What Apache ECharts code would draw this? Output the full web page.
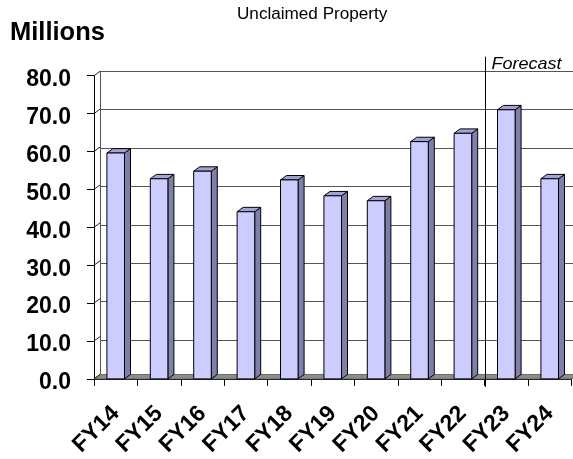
<!DOCTYPE html>
<html>
<head>
<meta charset="utf-8">
<style>
  html, body { margin: 0; padding: 0; background: #ffffff; }
  #chart { width: 573px; height: 459px; }
</style>
<script src="https://cdn.jsdelivr.net/npm/echarts@6/dist/echarts.min.js"></script>
</head>
<body>
<div id="chart"></div>
<script>
// Fiscal years and unclaimed property receipts, in millions
const categories = ['FY14', 'FY15', 'FY16', 'FY17', 'FY18', 'FY19', 'FY20', 'FY21', 'FY22', 'FY23', 'FY24'];
const values = [59.6, 52.8, 54.8, 44.1, 52.5, 48.3, 47.0, 62.6, 64.8, 71.0, 52.8];
const yTicks = [0, 10, 20, 30, 40, 50, 60, 70, 80];
const forecastFrom = 'FY23';

// Depth of the pseudo-3D box (pixels, to the right and up)
const DX = 6, DY = 4.4;
const FONT = '"Liberation Sans", Arial, sans-serif';

const chart = echarts.init(document.getElementById('chart'), null, { renderer: 'canvas' });

function renderFrame(params, api) {
  const cs = params.coordSys;
  const left = cs.x, right = cs.x + cs.width, top = cs.y, bottom = cs.y + cs.height;
  const children = [];
  // floor of the box
  children.push({
    type: 'polygon',
    shape: { points: [[left, bottom], [right, bottom], [right + DX, bottom - DY], [left + DX, bottom - DY]] },
    style: { fill: '#8c8c8c', stroke: '#6a6a6a', lineWidth: 1 }
  });
  // side-wall connectors from the front axis ticks to the back wall
  yTicks.forEach(function (v) {
    const y = api.coord([0, v])[1];
    children.push({
      type: 'line',
      shape: { x1: left, y1: y, x2: left + DX, y2: y - DY },
      style: { stroke: '#222', lineWidth: 1 }
    });
  });
  // divider between actuals and forecast
  const fi = categories.indexOf(forecastFrom);
  const band = api.size([1, 0])[0];
  const fx = Math.round(api.coord([fi, 0])[0] - band / 2) + 0.5;
  children.push({
    type: 'line',
    shape: { x1: fx, y1: top - 19, x2: fx, y2: bottom + 8 },
    style: { stroke: '#000', lineWidth: 1 }
  });
  children.push({
    type: 'text',
    x: fx + 6, y: top - 20, scaleX: 1.06,
    style: { text: 'Forecast', font: 'italic 17px ' + FONT, fill: '#000', align: 'left', verticalAlign: 'top' }
  });
  return { type: 'group', children: children };
}

function renderBar(params, api) {
  const x = api.value(0), v = api.value(1);
  const base = api.coord([x, 0]);
  const tip = api.coord([x, v]);
  const band = api.size([1, 0])[0];
  const w = band * 0.405;
  const x0 = tip[0] - w / 2, x1 = x0 + w;
  const yt = tip[1], yb = base[1];
  const stroke = { stroke: '#000', lineWidth: 1, lineJoin: 'round' };
  return {
    type: 'group',
    children: [
      { type: 'polygon', shape: { points: [[x1, yt], [x1 + DX, yt - DY], [x1 + DX, yb - DY], [x1, yb]] },
        style: Object.assign({ fill: '#7f7fab' }, stroke) },
      { type: 'polygon', shape: { points: [[x0, yt], [x0 + DX, yt - DY], [x1 + DX, yt - DY], [x1, yt]] },
        style: Object.assign({ fill: '#a3a3d3' }, stroke) },
      { type: 'rect', shape: { x: x0, y: yt, width: w, height: yb - yt },
        style: Object.assign({ fill: '#ccccff' }, stroke) }
    ]
  };
}

const option = {
  animation: false,
  backgroundColor: '#ffffff',
  grid: [
    { left: 94, right: 1.6, top: 75.7, bottom: 76.3 },
    { left: 94 + DX, right: 1.6 - DX, top: 75.7 - DY, bottom: 76.3 + DY }
  ],
  xAxis: [
    {
      type: 'category', gridIndex: 0, data: categories,
      axisLine: { show: true, lineStyle: { color: '#000', width: 1 } },
      axisTick: { show: true, length: 7, lineStyle: { color: '#000' } },
      axisLabel: {
        interval: 0, rotate: 45, margin: 31, verticalAlign: 'middle',
        color: '#000', fontFamily: FONT, fontSize: 23, fontWeight: 'bold'
      },
      splitLine: { show: false }
    },
    {
      type: 'category', gridIndex: 1, data: categories,
      axisLine: { show: false }, axisTick: { show: false }, axisLabel: { show: false }, splitLine: { show: false }
    }
  ],
  yAxis: [
    {
      type: 'value', gridIndex: 0,
      min: yTicks[0], max: yTicks[yTicks.length - 1], interval: yTicks[1] - yTicks[0],
      axisLine: { show: true, lineStyle: { color: '#000', width: 1 } },
      axisTick: { show: true, length: 7, lineStyle: { color: '#000' } },
      axisLabel: {
        margin: 23,
        formatter: function (v) { return '{v|' + v.toFixed(1) + '}'; },
        rich: {
          v: { padding: [8, 0, 0, 0], color: '#000', fontFamily: FONT, fontSize: 23, fontWeight: 'bold' }
        },
        color: '#000', fontFamily: FONT, fontSize: 23, fontWeight: 'bold'
      },
      splitLine: { show: false }
    },
    {
      type: 'value', gridIndex: 1,
      min: yTicks[0], max: yTicks[yTicks.length - 1], interval: yTicks[1] - yTicks[0],
      axisLine: { show: true, lineStyle: { color: '#555', width: 1 } },
      axisTick: { show: false }, axisLabel: { show: false },
      splitLine: { show: true, lineStyle: { color: '#555', width: 1 } }
    }
  ],
  graphic: [
    {
      type: 'text', x: 237, y: 7, scaleX: 1.07,
      style: { text: 'Unclaimed Property', font: '16px ' + FONT, fill: '#000', align: 'left', verticalAlign: 'top' }
    },
    {
      type: 'text', x: 10, y: 20,
      style: { text: 'Millions', font: 'bold 25.5px ' + FONT, fill: '#000', align: 'left', verticalAlign: 'top' }
    }
  ],
  series: [
    {
      type: 'custom', name: 'frame', xAxisIndex: 0, yAxisIndex: 0,
      data: [[0, 0]], renderItem: renderFrame, clip: false, silent: true, z: 1
    },
    {
      type: 'custom', name: 'Unclaimed Property', xAxisIndex: 0, yAxisIndex: 0,
      data: values.map(function (v, i) { return [i, v]; }),
      renderItem: renderBar, clip: false, z: 3
    }
  ]
};

chart.setOption(option);
</script>
</body>
</html>
